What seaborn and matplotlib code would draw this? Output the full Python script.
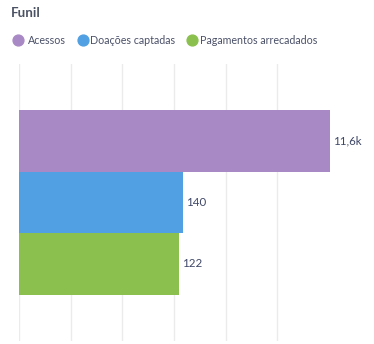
import matplotlib
matplotlib.use("Agg")
import matplotlib.pyplot as plt
from matplotlib.lines import Line2D
import pandas as pd
import seaborn as sns

# Funnel stages and their totals
stages = ["Acessos", "Doações captadas", "Pagamentos arrecadados"]
values = [11600, 140, 122]
value_labels = ["11,6k", "140", "122"]
colors = ["#a989c5", "#50a0e3", "#8bc04f"]

df = pd.DataFrame({"grupo": ["Funil"] * len(stages), "etapa": stages, "valor": values})

sns.set_theme(style="white")
plt.rcParams["font.family"] = ["Lato", "DejaVu Sans"]

W, H = 374, 344
fig = plt.figure(figsize=(W / 100, H / 100), dpi=100)
ax = fig.add_axes([19 / W, 1 - 341 / H, (367 - 19) / W, (341 - 64) / H])

sns.barplot(data=df, x="valor", y="grupo", hue="etapa", hue_order=stages,
            palette=colors, orient="h", width=0.666, ax=ax, legend=False,
            saturation=1, linewidth=0)

ax.set_xscale("log")
ax.set_xlim(1, 10 ** 4.55)
ax.set_ylim(0.5, -0.5)

# vertical guides, evenly spaced on the log axis
ax.set_xticks([10 ** (k * 0.675) for k in range(6)])
ax.xaxis.set_minor_locator(matplotlib.ticker.NullLocator())
ax.grid(axis="x", color="#ebebeb", linewidth=1)
ax.set_axisbelow(True)
ax.tick_params(left=False, bottom=False, labelleft=False, labelbottom=False)
ax.set_xlabel("")
ax.set_ylabel("")
for s in ax.spines.values():
    s.set_visible(False)

for cont, lab in zip(ax.containers, value_labels):
    ax.bar_label(cont, labels=[lab], padding=2.3, fontsize=8.3, color="#3f4767")

# title
fig.text(11 / W, 1 - 16.7 / H, "Funil", fontsize=9.6, fontweight="bold",
         color="#4b5263", va="baseline", ha="left")

# legend row
circle_x = [18.3, 82.5, 192]
text_x = [28.3, 90, 200]
for cx, tx, name, col in zip(circle_x, text_x, stages, colors):
    fig.add_artist(Line2D([cx / W], [1 - 39.5 / H], marker="o", markersize=7.8,
                          color=col, linestyle="", transform=fig.transFigure))
    fig.text(tx / W, 1 - 44.3 / H, name, fontsize=7.7, color="#4a5068",
             va="baseline", ha="left")

fig.savefig("out.png", dpi=100)
